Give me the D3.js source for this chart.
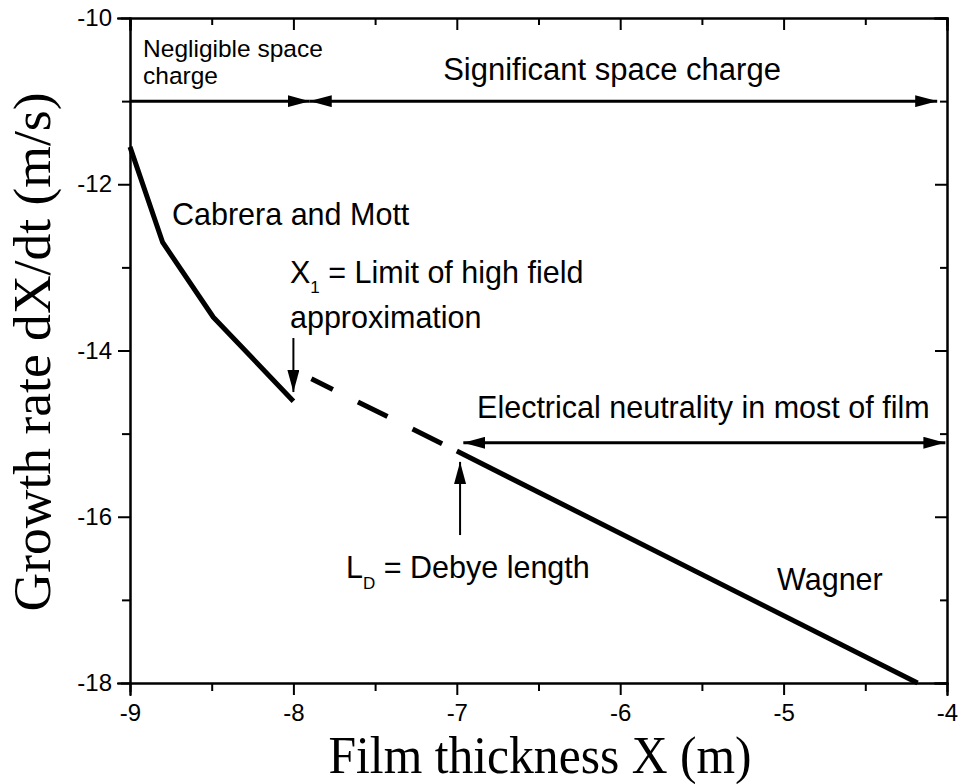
<!DOCTYPE html>
<html lang="en">
<head>
  <meta charset="utf-8">
  <title>Growth rate vs film thickness</title>
  <style>
    body { margin: 0; background: #fff; }
    svg text { font-family: Arial, 'Liberation Sans', sans-serif; fill: #000; }
    .axis path, .axis line { stroke: #000; stroke-width: 2px; }
    .title { font-family: 'Times New Roman', 'Liberation Serif', serif !important; }
  </style>
</head>
<body>
  <div id="chart"></div>
  <script src="https://d3js.org/d3.v7.min.js"></script>
  <script>
    // axis ticks
    var xMajor = [-9, -8, -7, -6, -5, -4];
    var xMinor = [-8.5, -7.5, -6.5, -5.5, -4.5];
    var yMajor = [-10, -12, -14, -16, -18];
    var yMinor = [-11, -13, -15, -17];

    // curves
    var cabreraX = [-9, -8.8, -8.49, -8.0];
    var cabreraY = [-11.55, -12.70, -13.60, -14.61];
    var dashX = [-7.89, -7.0];
    var dashY = [-14.34, -15.21];
    var wagnerX = [-7.0, -4.18];
    var wagnerY = [-15.21, -18.0];

    // arrows: from -> to (head at the end), both = double headed
    var arrowFrom = [[-9, -11], [-7.9, -11], [-6.96, -15.11], [-8, -13.85], [-6.98, -16.22]];
    var arrowTo = [[-7.9, -11], [-4.06, -11], [-4.01, -15.11], [-8, -14.5], [-6.98, -15.34]];
    var arrowBoth = [false, true, true, false, false];

    // labels
    var labelText = ["Negligible space", "charge", "Significant space charge", "Cabrera and Mott",
      "approximation", "Electrical neutrality in most of film", "Wagner"];
    var labelX = [-8.92, -8.92, -6.05, -8.743, -8.021, -6.876, -5.04];
    var labelY = [-10.47, -10.79, -10.75, -12.49, -13.73, -14.81, -16.88];
    var labelSize = [24.5, 24.5, 31, 30.5, 30.5, 30.5, 30.5];
    var labelAnchor = ["start", "start", "middle", "start", "start", "start", "start"];

    var margin = { top: 18, right: 17, bottom: 101, left: 130 };
    var width = 964 - margin.left - margin.right;
    var height = 784 - margin.top - margin.bottom;

    var svg = d3.select("#chart").append("svg")
      .attr("width", 964)
      .attr("height", 784);
    var g = svg.append("g")
      .attr("transform", "translate(" + margin.left + "," + margin.top + ")");

    var x = d3.scaleLinear().domain([-9, -4]).range([0, width]);
    var y = d3.scaleLinear().domain([-10, -18]).range([0, height]);

    // arrow head marker
    svg.append("defs").append("marker")
      .attr("id", "head")
      .attr("viewBox", "0 0 22 12")
      .attr("refX", 22).attr("refY", 6)
      .attr("markerWidth", 22).attr("markerHeight", 12)
      .attr("markerUnits", "userSpaceOnUse")
      .attr("orient", "auto-start-reverse")
      .append("path").attr("d", "M0,0L22,6L0,12Z").attr("fill", "#000");

    // plain hyphen for negatives, like the original
    var fmt = function (d) { return String(d); };

    // axes: outward ticks on bottom/left, inward on top/right
    function drawAxis(axis, transform) {
      var sel = g.append("g").attr("class", "axis").attr("transform", transform || null).call(axis);
      sel.selectAll("text")
        .style("font-family", "Arial, 'Liberation Sans', sans-serif")
        .style("font-size", "24px");
      return sel;
    }
    var atBottom = "translate(0," + height + ")";
    var atRight = "translate(" + width + ",0)";
    drawAxis(d3.axisBottom(x).tickValues(xMajor).tickSize(12).tickPadding(9).tickFormat(fmt), atBottom);
    drawAxis(d3.axisBottom(x).tickValues(xMinor).tickSize(8).tickFormat(""), atBottom);
    drawAxis(d3.axisLeft(y).tickValues(yMajor).tickSize(12).tickPadding(6).tickFormat(fmt));
    drawAxis(d3.axisLeft(y).tickValues(yMinor).tickSize(8).tickFormat(""));
    drawAxis(d3.axisTop(x).tickValues(xMajor).tickSize(-12).tickFormat(""));
    drawAxis(d3.axisTop(x).tickValues(xMinor).tickSize(-7).tickFormat(""));
    drawAxis(d3.axisRight(y).tickValues(yMajor).tickSize(-12).tickFormat(""), atRight);
    drawAxis(d3.axisRight(y).tickValues(yMinor).tickSize(-7).tickFormat(""), atRight);
    g.selectAll(".axis path.domain").attr("stroke-linecap", "square");

    // curves
    var line = d3.line().x(function (d) { return x(d[0]); }).y(function (d) { return y(d[1]); });
    g.append("path")
      .attr("d", line(d3.zip(cabreraX, cabreraY)))
      .attr("fill", "none").attr("stroke", "#000").attr("stroke-width", 5)
      .attr("stroke-linejoin", "round");
    g.append("path")
      .attr("d", line(d3.zip(dashX, dashY)))
      .attr("fill", "none").attr("stroke", "#000").attr("stroke-width", 5)
      .attr("stroke-dasharray", "33,28").attr("stroke-dashoffset", 9);
    g.append("path")
      .attr("d", line(d3.zip(wagnerX, wagnerY)))
      .attr("fill", "none").attr("stroke", "#000").attr("stroke-width", 5);

    // arrows
    arrowFrom.forEach(function (p, i) {
      var q = arrowTo[i];
      var vertical = p[0] === q[0];
      g.append("line")
        .attr("x1", x(p[0])).attr("y1", y(p[1]))
        .attr("x2", x(q[0])).attr("y2", y(q[1]))
        .attr("stroke", "#000").attr("stroke-width", vertical ? 2 : 3)
        .attr("marker-end", "url(#head)")
        .attr("marker-start", arrowBoth[i] ? "url(#head)" : null);
    });

    // text labels
    labelText.forEach(function (t, i) {
      g.append("text")
        .attr("x", x(labelX[i])).attr("y", y(labelY[i]))
        .attr("text-anchor", labelAnchor[i])
        .style("font-size", labelSize[i] + "px")
        .text(t);
    });

    // labels with subscripts
    var x1 = g.append("text").attr("x", x(-8.021)).attr("y", y(-13.19)).style("font-size", "30.5px");
    x1.append("tspan").text("X");
    x1.append("tspan").attr("dy", 10).style("font-size", "17px").text("1");
    x1.append("tspan").attr("dy", -10).text(" = Limit of high field");

    var ld = g.append("text").attr("x", x(-7.678)).attr("y", y(-16.74)).style("font-size", "30.5px");
    ld.append("tspan").text("L");
    ld.append("tspan").attr("dy", 11).style("font-size", "17px").text("D");
    ld.append("tspan").attr("dy", -11).text(" = Debye length");

    // axis titles
    svg.append("text")
      .attr("class", "title")
      .attr("x", 540).attr("y", 773)
      .attr("text-anchor", "middle")
      .attr("textLength", 423).attr("lengthAdjust", "spacingAndGlyphs")
      .style("font-size", "52px")
      .text("Film thickness X (m)");

    svg.append("text")
      .attr("class", "title")
      .attr("transform", "translate(50,352) rotate(-90)")
      .attr("text-anchor", "middle")
      .attr("textLength", 519).attr("lengthAdjust", "spacingAndGlyphs")
      .style("font-size", "53px")
      .text("Growth rate dX/dt (m/s)");
  </script>
</body>
</html>
